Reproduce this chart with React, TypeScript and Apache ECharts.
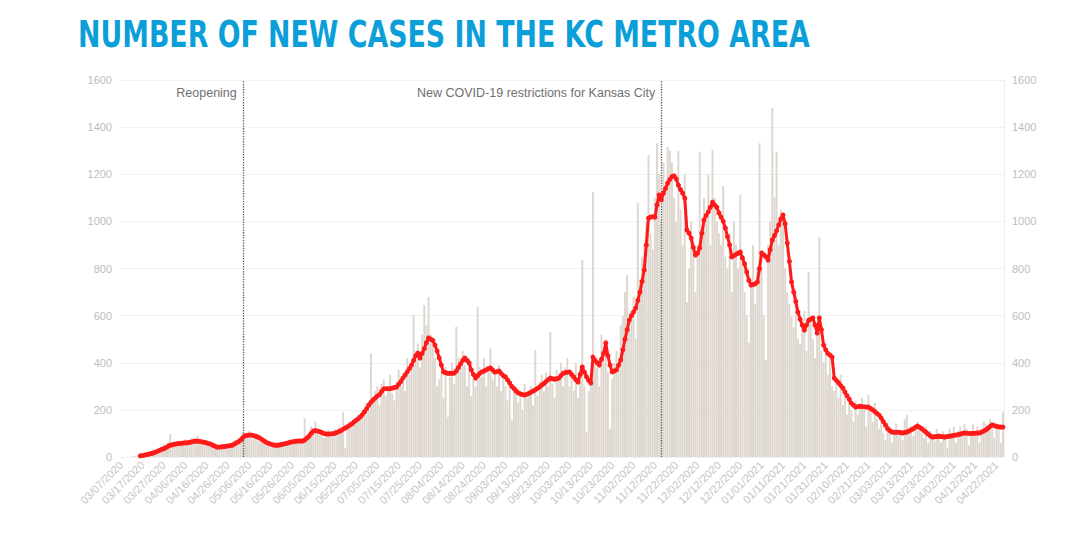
import React, { useEffect, useRef } from "react";
import * as echarts from "echarts";

// ---- data (daily new cases & 7-day average), month by month ----
const marBars20 = [0,0,0,1,0,2,3,2,5,6,8,10,12,15,20,25,30,28,40,45,55,50,62,98,60];
const marAvg20 = [null,null,null,null,null,null,null,null,null,5,6,8,10,12,15,17,20,24,28,32,35,40,45,50,52];
const aprBars20 = [55,48,70,62,58,75,52,60,80,66,72,90,58,62,70,48,55,60,42,38,50,35,48,52,40,55,45,60,70,65];
const aprAvg20 = [54,56,57,58,59,60,60,62,64,66,68,67,66,64,62,60,57,55,50,46,42,42,43,44,45,47,48,50,55,60];
const mayBars20 = [60,85,102,95,88,110,80,75,95,70,65,60,55,50,48,40,62,58,42,45,55,60,50,58,72,66,65,70,60,75,72];
const mayAvg20 = [65,72,82,90,92,93,93,91,88,85,80,74,68,62,58,55,52,50,50,51,53,55,57,59,62,64,66,67,68,68,68];
const junBars20 = [165,90,100,130,120,150,110,95,100,80,105,115,90,95,120,100,130,110,190,38,140,150,125,160,140,180,170,200,175,230];
const junAvg20 = [72,80,88,100,110,112,110,108,104,100,98,97,98,99,100,104,108,112,118,123,128,134,140,148,155,162,170,180,192,205];
const julBars20 = [200,441,250,280,300,220,310,330,260,290,350,270,240,320,370,300,340,280,420,350,400,602,450,480,380,520,645,560,679,520,470];
const julAvg20 = [220,232,242,250,258,265,278,289,290,290,290,292,295,297,308,320,335,348,361,375,390,410,430,441,420,440,460,485,505,500,495];
const augBars20 = [420,300,330,360,250,380,170,340,400,310,552,420,380,450,390,300,420,260,330,300,637,380,340,420,300,380,460,330,350,300,390];
const augAvg20 = [475,450,420,390,361,358,355,355,355,356,365,380,395,410,420,410,399,370,350,335,345,355,361,365,370,375,378,370,360,362,365];
const sepBars20 = [280,350,300,240,330,157,290,300,230,270,200,310,250,280,300,220,454,260,320,350,280,360,300,530,310,250,370,330,400,300];
const sepAvg20 = [355,345,340,327,314,300,290,280,272,268,265,263,266,270,275,280,285,291,297,305,312,320,328,335,332,330,332,335,345,355];
const octBars20 = [380,420,300,350,280,400,250,380,836,300,106,280,350,1125,420,380,300,520,460,500,360,120,330,400,450,380,560,600,700,772,560];
const octAvg20 = [358,360,361,350,340,328,318,350,382,360,340,325,314,424,410,400,390,415,440,484,430,390,361,365,370,390,412,455,500,540,581];
const novBars20 = [620,680,500,1078,750,850,900,1000,1282,950,880,1100,1332,1200,1000,1250,1150,1316,1300,1250,1100,1000,1300,1050,900,1200,658,800,1000,900];
const novAvg20 = [600,615,632,665,700,745,794,900,1014,1018,1020,1018,1070,1112,1091,1120,1140,1163,1178,1190,1193,1180,1154,1135,1120,1099,963,950,929,890];
const decBars20 = [700,900,1295,950,1100,1000,1200,900,1303,1100,1000,950,900,1150,850,800,950,700,1000,900,800,1112,850,700,600,484,750,900,650,800,1332];
const decAvg20 = [857,865,887,950,1006,1025,1040,1060,1082,1070,1060,1036,1018,1000,972,935,900,849,855,860,865,870,845,820,785,750,730,732,735,743,800];
const janBars21 = [800,600,412,900,1000,1481,1100,1295,900,1050,1000,800,700,650,600,550,700,500,480,560,620,450,785,600,500,420,550,934,450,400,480];
const janAvg21 = [866,858,850,836,880,921,940,960,985,1010,1027,990,908,830,743,700,660,615,585,560,539,560,580,585,590,560,526,590,540,475,455];
const febBars21 = [350,420,300,280,330,250,350,220,300,180,250,200,150,240,180,220,250,200,130,263,210,150,230,160,120,180,100];
const febAvg21 = [440,432,424,335,325,315,304,293,276,260,245,229,220,212,214,215,214,213,212,212,206,200,193,185,178,165,150];
const marBars21 = [72,150,130,60,110,140,90,100,70,160,178,100,130,90,140,150,120,100,80,130,60,110,90,70,120,100,60,110,90,40,120];
const marAvg21 = [135,120,112,106,105,105,105,104,102,104,106,110,115,120,126,131,126,120,112,105,97,90,85,86,87,88,87,86,85,87,88];
const aprBars21 = [100,130,60,110,130,90,140,120,50,100,140,110,130,60,100,150,140,130,160,150,80,140,120,60,191];
const aprAvg21 = [90,92,93,95,97,100,102,101,100,100,100,101,102,102,106,110,115,122,130,136,133,130,128,127,127];

const dailyCases = [
  ...marBars20, ...aprBars20, ...mayBars20, ...junBars20, ...julBars20, ...augBars20,
  ...sepBars20, ...octBars20, ...novBars20, ...decBars20, ...janBars21, ...febBars21,
  ...marBars21, ...aprBars21,
];
const sevenDayAvg = [
  ...marAvg20, ...aprAvg20, ...mayAvg20, ...junAvg20, ...julAvg20, ...augAvg20,
  ...sepAvg20, ...octAvg20, ...novAvg20, ...decAvg20, ...janAvg21, ...febAvg21,
  ...marAvg21, ...aprAvg21,
];

// category dates: 03/07/2020 .. 04/25/2021 (02/15/2021 absent from the source data)
const startDate = "2020-03-07";
const endDate = "2021-04-25";
const missingDates = ["02/15/2021"];
function buildDates(): string[] {
  const out: string[] = [];
  const d = new Date(startDate + "T00:00:00Z");
  const end = new Date(endDate + "T00:00:00Z");
  while (d.getTime() <= end.getTime()) {
    const mm = String(d.getUTCMonth() + 1).padStart(2, "0");
    const dd = String(d.getUTCDate()).padStart(2, "0");
    const s = `${mm}/${dd}/${d.getUTCFullYear()}`;
    if (!missingDates.includes(s)) out.push(s);
    d.setUTCDate(d.getUTCDate() + 1);
  }
  return out;
}
const dates = buildDates();

const yTicks = [0, 200, 400, 600, 800, 1000, 1200, 1400, 1600];
const events = [
  { date: "05/03/2020", label: "Reopening" },
  { date: "11/15/2020", label: "New COVID-19 restrictions for Kansas City" },
];
const eventLabelValue = 1545;
const titleText = "NUMBER OF NEW CASES IN THE KC METRO AREA";

const FONT = "'Liberation Sans', Arial, sans-serif";

export default function App() {
  const ref = useRef<HTMLDivElement>(null);
  useEffect(() => {
    if (!ref.current) return;
    const chart = echarts.init(ref.current, undefined, { renderer: "svg" });
    const yAxisCommon = {
      type: "value" as const,
      min: yTicks[0],
      max: yTicks[yTicks.length - 1],
      interval: 200,
      axisTick: { show: false },
      axisLabel: {
        color: "#bdbdbd",
        fontSize: 11,
        fontFamily: FONT,
        formatter: (v: number) => String(v),
      },
      splitLine: { lineStyle: { color: "#f1f1f1", width: 1 } },
    };
    chart.setOption({
      animation: false,
      backgroundColor: "#ffffff",
      graphic: [
        {
          type: "text",
          x: 78,
          y: 15,
          scaleX: 0.706,
          style: {
            text: titleText,
            fill: "#0a9fd9",
            font: "bold 38px 'DejaVu Sans', sans-serif",
            verticalAlign: "top",
            align: "left",
          },
        },
      ],
      grid: { left: 120, right: 76, top: 80, bottom: 87 },
      xAxis: {
        type: "category",
        data: dates,
        boundaryGap: true,
        axisTick: { show: false },
        axisLine: { show: true, lineStyle: { color: "#f0f0f0" } },
        axisLabel: {
          interval: 9,
          rotate: 45,
          color: "#c4c4c4",
          fontSize: 11,
          fontFamily: FONT,
          margin: 6,
        },
        splitLine: { show: false },
      },
      yAxis: [
        { ...yAxisCommon, position: "left", axisLine: { show: false } },
        {
          ...yAxisCommon,
          position: "right",
          axisLine: { show: true, lineStyle: { color: "#eeeeee" } },
          splitLine: { show: false },
        },
      ],
      series: [
        {
          type: "bar",
          name: "Daily new cases",
          data: dailyCases,
          yAxisIndex: 0,
          barCategoryGap: "8%",
          itemStyle: { color: "#ded7cf" },
          z: 1,
          markLine: {
            silent: true,
            symbol: "none",
            label: { show: false },
            lineStyle: { type: "dotted", color: "#555", width: 1.3 },
            data: events.map((e) => ({ xAxis: e.date })),
          },
          markPoint: {
            silent: true,
            symbol: "circle",
            symbolSize: 0,
            data: events.map((e) => ({
              coord: [e.date, eventLabelValue],
              label: {
                show: true,
                position: "left",
                distance: 6,
                formatter: e.label,
                color: "#707070",
                fontSize: 12.5,
                fontFamily: FONT,
              },
            })),
          },
        },
        {
          type: "line",
          name: "7-day average",
          data: sevenDayAvg,
          yAxisIndex: 0,
          z: 5,
          symbol: "circle",
          symbolSize: 5,
          showSymbol: true,
          showAllSymbol: true,
          connectNulls: false,
          lineStyle: { color: "#ff1a1a", width: 3 },
          itemStyle: { color: "#ff1a1a" },
        },
      ],
    });
    return () => chart.dispose();
  }, []);
  return (
    <div
      ref={ref}
      style={{ position: "fixed", left: 0, top: 0, width: 1080, height: 544, background: "#fff" }}
    />
  );
}
